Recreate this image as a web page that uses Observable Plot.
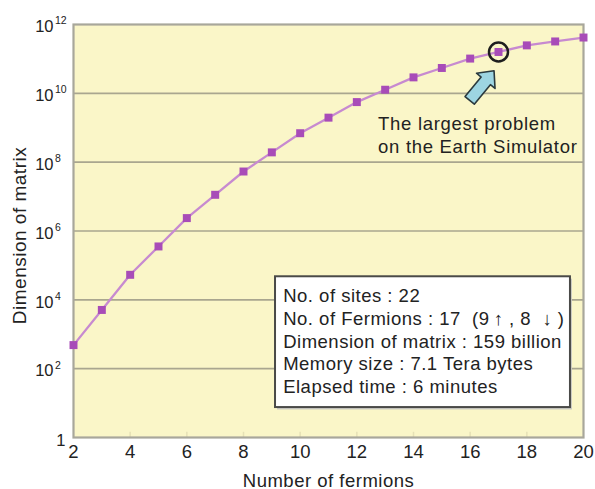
<!DOCTYPE html>
<html>
<head>
<meta charset="utf-8">
<script src="https://cdn.jsdelivr.net/npm/d3@7"></script>
<script src="https://cdn.jsdelivr.net/npm/@observablehq/plot@0.6"></script>
<style>
  html, body { margin: 0; padding: 0; background: #ffffff; }
  #chart { width: 595px; height: 489px; }
</style>
</head>
<body>
<div id="chart"></div>
<script>
// ---- data ----
const fermions = [2, 3, 4, 5, 6, 7, 8, 9, 10, 11, 12, 13, 14, 15, 16, 17, 18, 19, 20];
const dimension = [484, 5082, 53361, 355740, 2371600, 11265100, 53509225, 192633210,
  693479556, 1964858742, 5567099769, 12724799472, 29085255936, 54534854880,
  102252852900, 159060993400, 247426656400, 321654657320, 418151049316];
const xTicks = [2, 4, 6, 8, 10, 12, 14, 16, 18, 20];
const yTicks = [1e2, 1e4, 1e6, 1e8, 1e10, 1e12];
const yTickExponents = ["2", "4", "6", "8", "10", "12"];
const yTickOne = [1];
const gridValues = [1e2, 1e4, 1e6, 1e8, 1e10];
const infoLines = [
  "No. of sites : 22",
  "No. of Fermions : 17  (9\u2009\u2191 , 8  \u2193 )",
  "Dimension of matrix : 159 billion",
  "Memory size : 7.1 Tera bytes",
  "Elapsed time : 6 minutes"
];
const noteLines = ["The largest problem", "on the Earth Simulator"];
const highlightN = 17;

const data = fermions.map((n, i) => ({n, d: dimension[i]}));
const highlight = data.filter(r => r.n === highlightN);
const yTickData = yTicks.map((v, i) => ({v, e: yTickExponents[i]}));

// block arrow drawn through the scales
function blockArrow(from, to) {
  return (index, scales) => {
    const g = d3.create("svg:g");
    if (!scales || !scales.x || !scales.y) return g.node();
    const x0 = scales.x(from[0]), y0 = scales.y(from[1]);
    const x1 = scales.x(to[0]), y1 = scales.y(to[1]);
    const dx = x1 - x0, dy = y1 - y0, L = Math.hypot(dx, dy);
    const ux = dx / L, uy = dy / L, nx = -uy, ny = ux;
    const bw = 6, hw = 12, hl = 13;
    const bx = x1 - ux * hl, by = y1 - uy * hl;
    const pts = [
      [x0 + nx * bw, y0 + ny * bw],
      [bx + nx * bw, by + ny * bw],
      [bx + nx * hw, by + ny * hw],
      [x1, y1],
      [bx - nx * hw, by - ny * hw],
      [bx - nx * bw, by - ny * bw],
      [x0 - nx * bw, y0 - ny * bw]
    ];
    g.append("path")
      .attr("d", "M" + pts.map(p => p.join(",")).join("L") + "Z")
      .attr("fill", "#9dd5e2")
      .attr("stroke", "#2b3a3e")
      .attr("stroke-width", 1.6)
      .attr("stroke-linejoin", "round");
    return g.node();
  };
}

const font = "'Liberation Sans', Arial, Helvetica, sans-serif";

const chart = Plot.plot({
  width: 595,
  height: 489,
  marginLeft: 73,
  marginRight: 12,
  marginTop: 24,
  marginBottom: 52,
  style: {fontFamily: font, fontSize: "16px", background: "#ffffff", color: "#222", overflow: "visible"},
  x: {domain: [2, 20], ticks: xTicks},
  y: {type: "log", domain: [1, 1e12], axis: null},
  marks: [
    Plot.frame({fill: "#faf6c8"}),
    Plot.ruleX(xTicks.slice(1, -1), {y1: 1, y2: 10 ** 0.15, stroke: "#e6e1b6", strokeWidth: 1.5}),
    Plot.ruleY(gridValues, {stroke: "#a9a68f", strokeWidth: 1.6}),
    Plot.frame({stroke: "#a8a79b", strokeWidth: 2.2}),
    // y tick labels with superscript exponents
    Plot.text(yTickData, {y: "v", frameAnchor: "left", text: () => "10",
      textAnchor: "end", dx: -20, dy: 2.5, fontSize: 16.5, fill: "#222"}),
    Plot.text(yTickData, {y: "v", frameAnchor: "left", text: "e",
      textAnchor: "start", dx: -18.5, dy: -3.5, fontSize: 10.5, fill: "#222"}),
    Plot.text(yTickOne, {y: d => d, frameAnchor: "left", text: d => String(d),
      textAnchor: "end", dx: -8, dy: 3, fontSize: 16.5, fill: "#222"}),
    Plot.axisX({ticks: xTicks, tickSize: 0, tickPadding: 7, fontSize: 18.5, label: null}),
    Plot.text(["Number of fermions"], {frameAnchor: "bottom", text: d => d,
      textAnchor: "middle", lineAnchor: "bottom", dy: 49, fontSize: 18.5, fill: "#222"}),
    Plot.text(["Dimension of matrix"], {frameAnchor: "left", text: d => d,
      textAnchor: "middle", rotate: -90, lineAnchor: "bottom", dx: -48, dy: 4.5,
      fontSize: 19, fill: "#222"}),
    // series
    Plot.line(data, {x: "n", y: "d", stroke: "#c78ad0", strokeWidth: 2.3}),
    Plot.dot(data, {x: "n", y: "d", symbol: "square", r: 4.5, fill: "#a84cb8", stroke: "none"}),
    // highlight + annotation
    Plot.dot(highlight, {x: "n", y: "d", r: 9.5, stroke: "#1e1e1e", strokeWidth: 2.5, fill: "none"}),
    blockArrow([16.0, 10 ** 9.78], [16.86, 10 ** 10.64]),
    Plot.text([noteLines.join("\n")], {x: 12.75, y: 10 ** 8.27, text: d => d,
      textAnchor: "start", lineAnchor: "bottom", lineHeight: 1.26,
      fontSize: 18.5, fill: "#222"}),
    // info box
    Plot.rect([0], {x1: 9.2, x2: 19.61, y1: 10 ** 0.8, y2: 10 ** 4.6, fill: "#c9c9c2"}),
    Plot.rect([0], {x1: 9.13, x2: 19.54, y1: 10 ** 0.87, y2: 10 ** 4.67, fill: "#ffffff",
      stroke: "#4a4a48", strokeWidth: 2}),
    Plot.text([infoLines.join("\n")], {x: 9.40, y: 10 ** 1.29, text: d => d,
      textAnchor: "start", lineAnchor: "bottom", lineHeight: 1.23,
      fontSize: 18.5, fill: "#222"})
  ]
});

// letter spacing to match the reference's wider text
const spacing = [
  ["Number of fermions", "0.5px"],
  ["Dimension of matrix", "0.5px"],
  ["The largest problem", "0.7px"],
  ["No. of sites", "0.5px"]
];
d3.select(chart).selectAll("text").each(function () {
  const t = this.textContent;
  for (const [start, ls] of spacing) {
    if (t.startsWith(start) && !t.startsWith("Dimension of matrix :")) this.setAttribute("letter-spacing", ls);
  }
});

document.getElementById("chart").appendChild(chart);
</script>
</body>
</html>
